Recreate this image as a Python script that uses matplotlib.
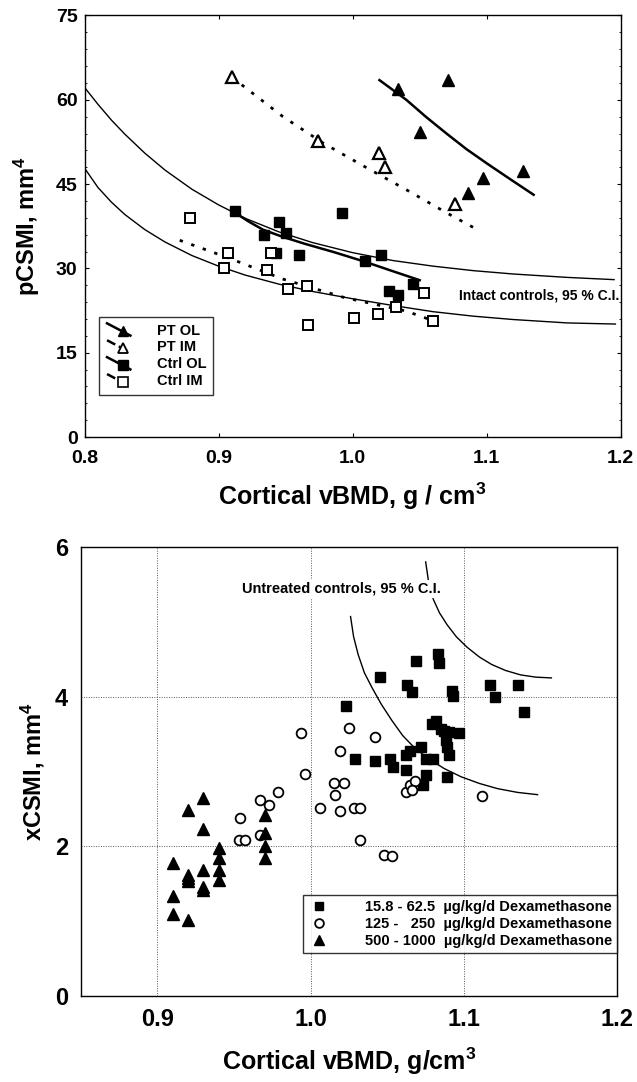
import matplotlib as mpl
mpl.use('Agg')
import matplotlib.pyplot as plt
from matplotlib.lines import Line2D
from matplotlib.legend_handler import HandlerBase

plt.rcParams['font.family'] = ['Liberation Sans', 'DejaVu Sans']
plt.rcParams['font.weight'] = 'bold'
plt.rcParams['mathtext.fontset'] = 'custom'
plt.rcParams['mathtext.rm'] = 'Liberation Sans:bold'
plt.rcParams['mathtext.bf'] = 'Liberation Sans:bold'
plt.rcParams['mathtext.default'] = 'regular'

# ---- top panel: pCSMI vs cortical vBMD ----
pt_ol_x = [1.034, 1.071, 1.050, 1.086, 1.097, 1.127]
pt_ol_y = [62.0, 63.5, 54.2, 43.4, 46.0, 47.3]
pt_im_x = [0.910, 0.974, 1.020, 1.024, 1.076]
pt_im_y = [64.1, 52.7, 50.5, 48.1, 41.5]
ctrl_ol_x = [0.912, 0.934, 0.945, 0.943, 0.950, 0.960, 0.992, 1.009, 1.021, 1.027, 1.034, 1.045]
ctrl_ol_y = [40.3, 35.9, 38.2, 32.7, 36.3, 32.3, 39.9, 31.3, 32.4, 25.9, 25.2, 27.3]
ctrl_im_x = [0.879, 0.907, 0.904, 0.939, 0.936, 0.952, 0.966, 0.967, 1.001, 1.019, 1.032, 1.053, 1.060]
ctrl_im_y = [39.0, 32.7, 30.1, 32.7, 29.8, 26.3, 26.9, 19.9, 21.1, 21.9, 23.2, 25.7, 20.7]

# regression lines
pt_ol_fit_x = [1.020, 1.040, 1.055, 1.070, 1.085, 1.100, 1.118, 1.135]
pt_ol_fit_y = [63.5, 60.0, 56.9, 54.0, 51.2, 48.7, 45.8, 43.1]
pt_im_fit_x = [0.910, 0.948, 0.978, 1.009, 1.040, 1.070, 1.093]
pt_im_fit_y = [64.0, 57.0, 52.3, 48.1, 44.0, 39.9, 36.9]
ctrl_ol_fit_x = [0.911, 0.922, 0.933, 0.948, 0.964, 0.986, 1.009, 1.030, 1.050]
ctrl_ol_fit_y = [40.1, 38.4, 36.9, 35.6, 34.4, 32.9, 31.2, 29.5, 27.9]
ctrl_im_fit_x = [0.871, 0.907, 0.948, 0.994, 1.040, 1.067]
ctrl_im_fit_y = [35.0, 31.9, 28.1, 24.8, 22.4, 20.1]

# intact controls 95 % CI
ci_up_x = [0.800, 0.810, 0.820, 0.830, 0.845, 0.860, 0.880, 0.900, 0.920, 0.945,
           0.970, 1.000, 1.030, 1.060, 1.090, 1.120, 1.160, 1.195]
ci_up_y = [62.2, 59.2, 56.4, 53.9, 50.5, 47.5, 44.1, 41.3, 38.9, 36.5,
           34.6, 32.8, 31.4, 30.4, 29.6, 29.0, 28.4, 28.0]
ci_lo_x = [0.801, 0.810, 0.820, 0.830, 0.845, 0.860, 0.880, 0.900, 0.920, 0.945,
           0.970, 1.000, 1.030, 1.060, 1.090, 1.120, 1.160, 1.196]
ci_lo_y = [47.5, 44.4, 41.8, 39.6, 36.9, 34.7, 32.3, 30.4, 28.8, 27.2,
           25.9, 24.6, 23.4, 22.3, 21.5, 20.9, 20.3, 20.1]

# ---- bottom panel: xCSMI vs cortical vBMD ----
low_x = [1.023, 1.029, 1.045, 1.069, 1.063, 1.066, 1.083, 1.084, 1.092, 1.093, 1.117, 1.120,
         1.135, 1.139, 1.042, 1.052, 1.054, 1.062, 1.062, 1.065, 1.072, 1.075, 1.080, 1.075,
         1.073, 1.079, 1.082, 1.085, 1.087, 1.090, 1.097, 1.088, 1.089, 1.090, 1.089]
low_y = [3.88, 3.17, 4.26, 4.48, 4.15, 4.06, 4.57, 4.45, 4.08, 4.01, 4.15, 4.00,
         4.15, 3.80, 3.14, 3.17, 3.06, 3.22, 3.02, 3.27, 3.33, 3.17, 3.17, 2.95,
         2.82, 3.63, 3.67, 3.57, 3.54, 3.53, 3.51, 3.42, 3.33, 3.22, 2.92]
mid_x = [0.994, 1.025, 1.042, 1.019, 0.996, 1.015, 1.022, 1.016, 1.006, 1.019, 1.028, 1.032,
         1.032, 1.048, 1.053, 0.979, 0.967, 0.973, 0.954, 0.953, 0.957, 0.967, 1.062, 1.065,
         1.068, 1.066, 1.112]
mid_y = [3.52, 3.58, 3.46, 3.28, 2.96, 2.85, 2.85, 2.68, 2.51, 2.47, 2.51, 2.51,
         2.09, 1.89, 1.87, 2.73, 2.62, 2.55, 2.38, 2.08, 2.08, 2.15, 2.73, 2.82,
         2.87, 2.75, 2.67]
high_x = [0.910, 0.910, 0.910, 0.920, 0.920, 0.920, 0.920, 0.920, 0.930, 0.930, 0.930,
          0.930, 0.930, 0.940, 0.940, 0.940, 0.940, 0.970, 0.970, 0.970, 0.970]
high_y = [1.78, 1.34, 1.09, 2.48, 1.62, 1.58, 1.53, 1.01, 2.65, 2.23, 1.68,
          1.46, 1.41, 1.98, 1.85, 1.68, 1.55, 2.42, 2.18, 2.00, 1.84]

# untreated controls 95 % CI
ci_in_x = [1.026, 1.028, 1.031, 1.035, 1.040, 1.046, 1.053, 1.060, 1.068, 1.077,
           1.087, 1.098, 1.110, 1.122, 1.135, 1.148]
ci_in_y = [5.07, 4.80, 4.56, 4.32, 4.12, 3.90, 3.68, 3.48, 3.31, 3.17,
           3.04, 2.93, 2.84, 2.77, 2.72, 2.69]
ci_out_x = [1.075, 1.077, 1.080, 1.084, 1.089, 1.095, 1.102, 1.110, 1.118, 1.127,
            1.137, 1.147, 1.157]
ci_out_y = [5.80, 5.52, 5.30, 5.12, 4.96, 4.80, 4.66, 4.53, 4.43, 4.35,
            4.29, 4.26, 4.25]

dex_labels = ['15.8 - 62.5  \u00b5g/kg/d Dexamethasone',
              '125 -   250  \u00b5g/kg/d Dexamethasone',
              '500 - 1000  \u00b5g/kg/d Dexamethasone']


class DiagHandler(HandlerBase):
    # legend key: sloping line ending in the marker, like the original
    def create_artists(self, legend, orig, xdescent, ydescent, width, height, fontsize, trans):
        x0 = -xdescent
        ln = Line2D([x0 + 0.05 * width, x0 + 0.85 * width], [height * 1.1, -0.1 * height],
                    color='k', lw=orig.get_linewidth(), linestyle=orig.get_linestyle())
        mk = Line2D([x0 + 0.6 * width], [0.35 * height], marker=orig.get_marker(),
                    ms=orig.get_markersize(), mfc=orig.get_markerfacecolor(),
                    mec='k', mew=orig.get_markeredgewidth(), ls='none')
        ln.set_transform(trans)
        mk.set_transform(trans)
        return [ln, mk]


fig = plt.figure(figsize=(6.37, 10.82), dpi=100)

ax1 = fig.add_axes([0.1327, 0.5961, 0.8418, 0.3896])
dots = (0, (1.2, 3.2))
ax1.plot(ci_up_x, ci_up_y, color='k', lw=1.0)
ax1.plot(ci_lo_x, ci_lo_y, color='k', lw=1.0)
ax1.plot(pt_ol_fit_x, pt_ol_fit_y, color='k', lw=1.8)
ax1.plot(pt_im_fit_x, pt_im_fit_y, color='k', lw=2.0, ls=dots)
ax1.plot(ctrl_ol_fit_x, ctrl_ol_fit_y, color='k', lw=1.8)
ax1.plot(ctrl_im_fit_x, ctrl_im_fit_y, color='k', lw=2.0, ls=dots)
ax1.plot(pt_ol_x, pt_ol_y, ls='none', marker='^', ms=9, mfc='k', mec='k')
ax1.plot(pt_im_x, pt_im_y, ls='none', marker='^', ms=8, mfc='white', mec='k', mew=1.6)
ax1.plot(ctrl_ol_x, ctrl_ol_y, ls='none', marker='s', ms=7.5, mfc='k', mec='k')
ax1.plot(ctrl_im_x, ctrl_im_y, ls='none', marker='s', ms=7, mfc='white', mec='k', mew=1.4)

ax1.text(1.079, 25.1, 'Intact controls, 95 % C.I.', fontsize=10, fontweight='bold',
         va='center', ha='left', clip_on=False)

h1 = [Line2D([], [], color='k', lw=1.8, marker='^', ms=7.5, mfc='k', mec='k'),
      Line2D([], [], color='k', lw=1.8, ls=(0, (1, 2.5)), marker='^', ms=7, mfc='white', mec='k', mew=1.3),
      Line2D([], [], color='k', lw=1.8, marker='s', ms=7, mfc='k', mec='k'),
      Line2D([], [], color='k', lw=1.8, ls=(0, (1, 2.5)), marker='s', ms=6.5, mfc='white', mec='k', mew=1.2)]
leg1 = ax1.legend(h1, ['PT OL', 'PT IM', 'Ctrl OL', 'Ctrl IM'], loc='lower left',
                  bbox_to_anchor=(0.027, 0.1), fontsize=10.5, frameon=True, fancybox=False,
                  edgecolor='k', handler_map={Line2D: DiagHandler()}, handlelength=2.0,
                  handletextpad=1.5, labelspacing=0.2, borderpad=0.45, borderaxespad=0)
leg1.get_frame().set_linewidth(1.0)

ax1.set_xlim(0.8, 1.2)
ax1.set_ylim(0, 75)
ax1.set_xticks([0.8, 0.9, 1.0, 1.1, 1.2])
ax1.set_xticklabels(['0.8', '0.9', '1.0', '1.1', '1.2'])
ax1.set_yticks([0, 15, 30, 45, 60, 75])
ax1.set_yticks(range(0, 76, 3), minor=True)
ax1.tick_params(axis='x', direction='in', length=3, width=0.8, top=True, labelsize=14, pad=9)
ax1.tick_params(axis='y', direction='in', length=3, width=0.8, right=True, labelsize=14, pad=5)
ax1.tick_params(which='minor', direction='in', length=1.5, width=0.6, right=True)
for lab in ax1.get_xticklabels() + ax1.get_yticklabels():
    lab.set_fontweight('bold')
ax1.set_xlabel('Cortical vBMD, g / cm$^3$', fontsize=18, fontweight='bold', labelpad=10)
ax1.set_ylabel('pCSMI, mm$^4$', fontsize=17, fontweight='bold', labelpad=10)
for s in ax1.spines.values():
    s.set_linewidth(1.0)

ax2 = fig.add_axes([0.1267, 0.0795, 0.8424, 0.415])
ax2.grid(True, color='0.35', ls=(0, (1, 1.5)), lw=0.7)
ax2.set_axisbelow(True)
ax2.plot(ci_in_x, ci_in_y, color='k', lw=1.0)
ax2.plot(ci_out_x, ci_out_y, color='k', lw=1.0)
ax2.plot(low_x, low_y, ls='none', marker='s', ms=7, mfc='k', mec='k', label=dex_labels[0])
ax2.plot(mid_x, mid_y, ls='none', marker='o', ms=7, mfc='white', mec='k', mew=1.3, label=dex_labels[1])
ax2.plot(high_x, high_y, ls='none', marker='^', ms=8, mfc='k', mec='k', label=dex_labels[2])
ax2.text(0.955, 5.44, 'Untreated controls, 95 % C.I.', fontsize=10.5, fontweight='bold',
         va='center', ha='left', zorder=5,
         bbox=dict(facecolor='white', edgecolor='none', pad=1.5))
leg2 = ax2.legend(loc='lower right', bbox_to_anchor=(1.0, 0.096), fontsize=10.5, frameon=True,
                  fancybox=False, edgecolor='k', handletextpad=2.4, handlelength=1.5,
                  labelspacing=0.2, borderpad=0.35, borderaxespad=0, markerscale=0.9)
leg2.get_frame().set_linewidth(1.0)

ax2.set_xlim(0.85, 1.2)
ax2.set_ylim(0, 6)
ax2.set_xticks([0.9, 1.0, 1.1, 1.2])
ax2.set_xticklabels(['0.9', '1.0', '1.1', '1.2'])
ax2.set_yticks([0, 2, 4, 6])
ax2.tick_params(length=0, labelsize=17, pad=9)
for lab in ax2.get_xticklabels() + ax2.get_yticklabels():
    lab.set_fontweight('bold')
ax2.set_xlabel('Cortical vBMD, g/cm$^3$', fontsize=18, fontweight='bold', labelpad=10)
ax2.set_ylabel('xCSMI, mm$^4$', fontsize=17, fontweight='bold', labelpad=6)
for s in ax2.spines.values():
    s.set_linewidth(1.0)

fig.savefig('out.png', dpi=100)
